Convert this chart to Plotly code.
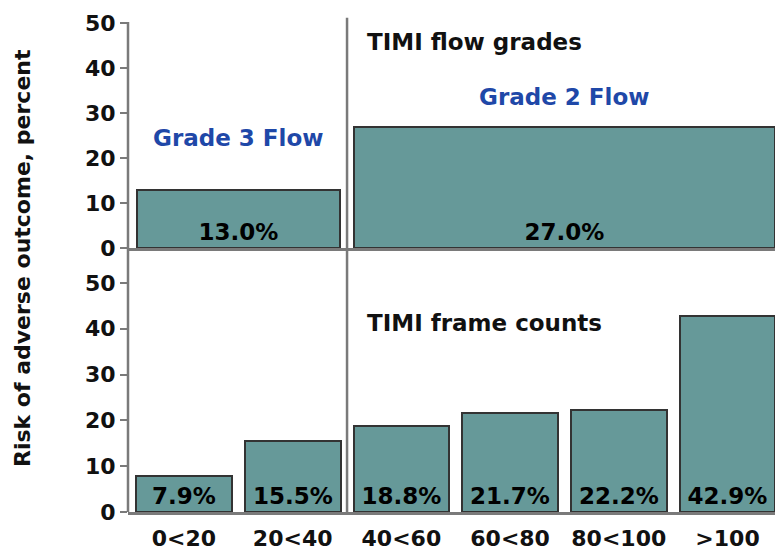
import plotly.graph_objects as go

# Risk of adverse outcome (percent) by TIMI flow grade and TIMI frame count
frame_categories = ["0<20", "20<40", "40<60", "60<80", "80<100", ">100"]
frame_risk = [7.9, 15.5, 18.8, 21.7, 22.2, 42.9]

grade_names = ["Grade 3 Flow", "Grade 2 Flow"]
grade_risk = [13.0, 27.0]
# each flow grade spans a group of frame-count categories (by index)
grade_spans = [(0, 1), (2, 5)]

y_ticks = [0, 10, 20, 30, 40, 50]

FILL = "#669999"
EDGE = "#333333"
AXIS = "#7a7a7a"
BLUE = "#1f48a8"
FONT = "DejaVu Sans"

grade_x = [(a + b) / 2 for a, b in grade_spans]
grade_w = [(b - a) + 0.87 for a, b in grade_spans]

fig = go.Figure()

fig.add_trace(go.Bar(
    x=grade_x, y=grade_risk, width=grade_w,
    marker=dict(color=FILL, line=dict(color=EDGE, width=2)),
    texttemplate="%{y:.1f}%", textposition="inside", insidetextanchor="start",
    textfont=dict(family=FONT, size=23, color="black", weight="bold"),
    xaxis="x", yaxis="y", showlegend=False, hoverinfo="skip",
))

fig.add_trace(go.Bar(
    x=list(range(len(frame_categories))), y=frame_risk, width=0.88,
    marker=dict(color=FILL, line=dict(color=EDGE, width=2)),
    texttemplate="%{y:.1f}%", textposition="inside", insidetextanchor="start",
    textfont=dict(family=FONT, size=23, color="black", weight="bold"),
    xaxis="x2", yaxis="y2", showlegend=False, hoverinfo="skip",
))

x_range = [-0.515, 5.437]
y_common = dict(
    range=[0, 50], tickvals=y_ticks, ticks="outside", ticklen=7, tickwidth=2,
    tickcolor=AXIS, showgrid=False, zeroline=False, showline=False,
    automargin=False,
    tickfont=dict(family=FONT, size=22, color="#111", weight="bold"),
)
x_common = dict(
    range=x_range, showgrid=False, zeroline=False, showline=True,
    linecolor=AXIS, linewidth=2.5, automargin=False,
)

fig.update_layout(
    width=775, height=554,
    margin=dict(l=128, r=0, t=0, b=0),
    paper_bgcolor="white", plot_bgcolor="white",
    bargap=0,
    xaxis=dict(**x_common, domain=[0, 1], anchor="y", showticklabels=False, ticks=""),
    yaxis=dict(**y_common, domain=[0.5523, 0.9585], anchor="x"),
    xaxis2=dict(**x_common, domain=[0, 1], anchor="y2", ticks="",
                tickvals=list(range(len(frame_categories))), ticktext=frame_categories,
                ticklabelstandoff=5,
                tickfont=dict(family=FONT, size=22, color="#111", weight="bold")),
    yaxis2=dict(**y_common, domain=[0.0758, 0.4892], anchor="x2"),
)

# continuous vertical axis line for both panels
fig.add_shape(type="line", xref="paper", yref="paper", x0=0, x1=0,
              y0=0.0758, y1=0.9605, line=dict(color=AXIS, width=2.5), layer="above")
# divider between the Grade 3 and Grade 2 groups
fig.add_shape(type="line", xref="x", yref="paper", x0=1.5, x1=1.5,
              y0=0.0758, y1=0.968, line=dict(color=AXIS, width=2.5), layer="above")

# group labels
fig.add_annotation(x=grade_x[0], y=24.4, xref="x", yref="y", text=grade_names[0],
                   showarrow=False, font=dict(family=FONT, size=23, color=BLUE, weight="bold"))
fig.add_annotation(x=grade_x[1], y=33.5, xref="x", yref="y", text=grade_names[1],
                   showarrow=False, font=dict(family=FONT, size=23, color=BLUE, weight="bold"))
fig.add_annotation(x=1.665, y=45.8, xref="x", yref="y", text="TIMI flow grades",
                   xanchor="left", showarrow=False,
                   font=dict(family=FONT, size=23, color="#111", weight="bold"))
fig.add_annotation(x=1.665, y=41.3, xref="x2", yref="y2", text="TIMI frame counts",
                   xanchor="left", showarrow=False,
                   font=dict(family=FONT, size=23, color="#111", weight="bold"))

# shared y-axis title
fig.add_annotation(x=-0.164, y=0.534, xref="paper", yref="paper",
                   text="Risk of adverse outcome, percent", textangle=-90,
                   showarrow=False, xanchor="center", yanchor="middle",
                   font=dict(family=FONT, size=22, color="#111", weight="bold"))

fig.write_html("out.html")
